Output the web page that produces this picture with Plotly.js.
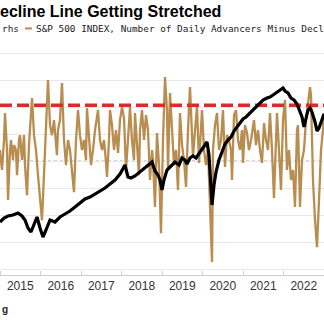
<!DOCTYPE html>
<html><head><meta charset="utf-8">
<script src="https://cdn.plot.ly/plotly-3.0.1.min.js"></script>
<style>html,body{margin:0;padding:0;background:#fff;overflow:hidden}#chart{width:324px;height:323px}</style>
</head><body><div id="chart"></div>
<script>
// Decimal-year x positions and values
const tanX = [2015.000,2015.049,2015.099,2015.123,2015.173,2015.198,2015.247,2015.272,2015.321,2015.346,2015.395,2015.420,2015.469,2015.494,2015.543,2015.593,2015.617,2015.667,2015.716,2015.765,2015.790,2015.840,2015.889,2015.938,2015.988,
2016.037,2016.086,2016.136,2016.185,2016.235,2016.284,2016.333,2016.358,2016.407,2016.432,2016.481,2016.531,2016.580,2016.630,2016.679,2016.728,2016.778,2016.827,2016.877,2016.926,2016.975,
2017.025,2017.074,2017.123,2017.148,2017.198,2017.247,2017.296,2017.346,2017.420,2017.469,2017.519,2017.568,2017.617,2017.642,2017.691,2017.716,2017.765,2017.815,2017.864,2017.914,2017.963,
2018.012,2018.062,2018.111,2018.160,2018.210,2018.259,2018.309,2018.333,2018.383,2018.432,2018.457,2018.506,2018.556,2018.605,2018.654,2018.704,2018.753,2018.778,2018.827,2018.877,2018.926,2018.975,
2019.025,2019.074,2019.123,2019.148,2019.198,2019.247,2019.296,2019.346,2019.395,2019.444,2019.494,2019.543,2019.593,2019.642,2019.691,2019.741,2019.765,2019.815,2019.864,2019.914,2019.988,
2020.037,2020.086,2020.136,2020.185,2020.235,2020.259,2020.309,2020.358,2020.407,2020.457,2020.481,2020.506,2020.556,2020.605,2020.654,2020.704,2020.728,2020.778,2020.827,2020.877,2020.926,2020.975,
2021.000,2021.049,2021.099,2021.148,2021.198,2021.272,2021.321,2021.370,2021.420,2021.469,2021.519,2021.568,2021.617,2021.667,2021.716,2021.765,2021.815,2021.840,2021.889,2021.938,2021.988,
2022.037,2022.086,2022.136,2022.185,2022.235,2022.284,2022.333,2022.358,2022.407,2022.457,2022.506,2022.556,2022.605,2022.654,2022.679,2022.728,2022.778,2022.827,2022.877,2022.926,2022.975,2023.000];
const tanY = [41,-33,78,178,41,-144,41,78,4,59,41,-52,78,96,4,96,-15,-126,59,152,233,96,41,-52,-144,
-219,-52,115,300,133,96,152,115,22,115,152,289,78,-15,78,41,-52,-115,78,189,96,
41,78,4,196,78,-15,41,115,189,78,41,78,-4,-59,78,189,133,41,115,30,152,
200,159,-33,78,200,78,4,178,78,-52,115,189,78,170,115,-70,41,4,-170,104,-15,-267,
78,311,189,-33,252,96,-15,41,-107,178,59,4,-96,115,274,96,15,115,200,-7,189,
41,-15,41,-144,-374,41,133,178,41,78,152,189,-22,96,78,41,-70,170,189,78,41,115,-7,
133,104,41,78,152,59,115,41,-7,141,78,41,178,41,-137,78,178,41,-107,152,226,
-33,41,-70,-33,-170,115,133,-170,4,41,152,226,274,244,-70,-219,-319,-144,41,115,178];

const blkX = [2015.000,2015.099,2015.198,2015.321,2015.444,2015.543,2015.617,2015.691,2015.765,2015.840,2015.914,2015.988,
2016.062,2016.136,2016.235,2016.358,2016.481,2016.605,2016.728,2016.852,2016.975,
2017.099,2017.222,2017.346,2017.469,2017.593,2017.716,2017.840,2017.963,
2018.086,2018.160,2018.235,2018.333,2018.457,2018.580,2018.704,2018.753,2018.827,2018.901,2018.951,
2019.000,2019.049,2019.123,2019.198,2019.321,2019.420,2019.494,2019.568,2019.617,2019.691,2019.765,2019.840,2019.938,
2020.037,2020.111,2020.160,2020.210,2020.235,2020.284,2020.333,2020.407,2020.481,2020.556,2020.630,2020.704,2020.778,2020.852,2020.926,
2021.000,2021.074,2021.173,2021.272,2021.346,2021.420,2021.494,2021.593,2021.667,2021.741,2021.840,2021.914,2021.988,
2022.037,2022.111,2022.185,2022.259,2022.333,2022.383,2022.457,2022.506,2022.556,2022.605,2022.654,2022.704,2022.778,2022.827,2022.877,2022.926,2023.000];
const blkY = [530,570,590,600,620,590,550,470,430,510,580,470,
380,450,550,530,580,610,640,680,720,
760,780,810,840,870,910,950,1010,
1100,980,970,990,1030,1070,1110,1130,1040,1000,950,
850,950,1050,1080,1130,1100,1170,1150,1110,1170,1190,1170,1230,
1280,1330,1200,900,700,900,1030,1150,1230,1310,1350,1380,1440,1480,1520,
1560,1580,1620,1660,1680,1710,1750,1770,1780,1800,1830,1850,1870,
1840,1820,1770,1750,1710,1650,1580,1480,1570,1650,1670,1630,1530,1440,1470,1530,1610];

const thresholdX = [2015, 2023];
const threshold = 207;
const yearLabels = ['2015','2016','2017','2018','2019','2020','2021','2022'];
const yearCenters = [2015.5,2016.5,2017.5,2018.5,2019.5,2020.5,2021.5,2022.5];

const traces = [
  {x: tanX, y: tanY, type:'scatter', mode:'lines', line:{color:'#b98c50', width:2.3}, yaxis:'y', hoverinfo:'skip'},
  {x: thresholdX, y: [threshold, threshold], type:'scatter', mode:'lines', line:{color:'#dc2b2b', width:3.5, dash:'12px,5px'}, yaxis:'y', hoverinfo:'skip'},
  {x: blkX, y: blkY, type:'scatter', mode:'lines', line:{color:'#000', width:3.2}, yaxis:'y2', hoverinfo:'skip'}
];

const layout = {
  width:324, height:323,
  margin:{l:0, r:0, t:45, b:48, pad:0},
  paper_bgcolor:'#fff', plot_bgcolor:'#fff',
  showlegend:false,
  title:{text:'ecline Line Getting Stretched', x:0, xanchor:'left', xref:'paper', y:0.966, yanchor:'middle', yref:'container',
    font:{family:'Liberation Sans, Arial, sans-serif', size:16, color:'#000', weight:'bold'}},
  xaxis:{range:[2015, 2023], tickmode:'array', tickvals:yearCenters, ticktext:yearLabels, ticks:'', showgrid:false, zeroline:false,
    showline:true, linecolor:'#cfcfcf', linewidth:1,
    tickfont:{family:'Liberation Sans, Arial, sans-serif', size:12, color:'#333'},
    minor:{tickmode:'linear', tick0:2015, dtick:1, ticks:'inside', ticklen:4, tickcolor:'#cfcfcf', showgrid:false}},
  yaxis:{range:[-422, 430], dtick:100, tick0:0, showgrid:true, gridcolor:'#e8e8e8', gridwidth:1, zeroline:false, showticklabels:false, ticks:''},
  yaxis2:{range:[0, 2300], overlaying:'y', side:'right', showgrid:false, zeroline:false, showticklabels:false, ticks:''},
  shapes:[
    {type:'line', xref:'paper', x0:0, x1:1, yref:'y', y0:0, y1:0, layer:'below', line:{color:'#9a9a9a', width:1, dash:'dot'}},
    {type:'line', xref:'paper', x0:25/324, x1:32/324, yref:'paper', y0:1.072, y1:1.072, line:{color:'#b98c50', width:2}}
  ],
  annotations:[
    {text:'rhs', xref:'paper', yref:'paper', x:0, y:1.0696, xanchor:'left', yanchor:'middle', showarrow:false,
      font:{family:'DejaVu Sans Mono, monospace', size:9.4, color:'#222'}},
    {text:'S&P 500 INDEX, Number of Daily Advancers Minus Decl', xref:'paper', yref:'paper', x:34/324, y:1.0696, xanchor:'left', yanchor:'middle', showarrow:false,
      font:{family:'DejaVu Sans Mono, monospace', size:9.4, color:'#222'}},
    {text:'<b>g</b>', xref:'paper', yref:'paper', x:0, y:-0.148, xanchor:'left', yanchor:'middle', showarrow:false,
      font:{family:'Liberation Sans, Arial, sans-serif', size:10, color:'#222'}}
  ]
};
Plotly.newPlot('chart', traces, layout, {staticPlot:true, displayModeBar:false});
</script></body></html>
